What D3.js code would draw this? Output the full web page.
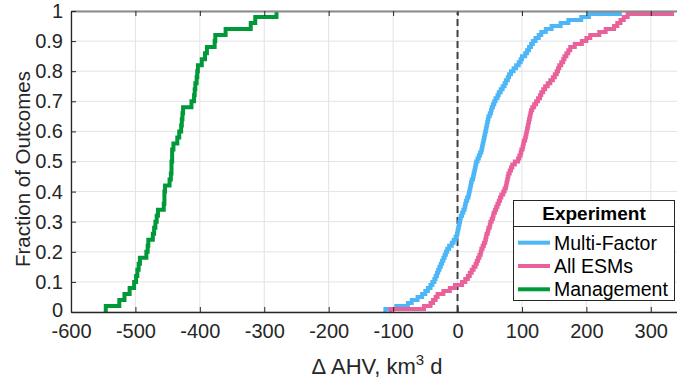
<!DOCTYPE html>
<html>
<head>
<meta charset="utf-8">
<script src="https://cdn.jsdelivr.net/npm/d3@7"></script>
<style>
  body { margin: 0; background: #fff; }
  svg { display: block; font-family: "Liberation Sans", Arial, Helvetica, sans-serif; }
</style>
</head>
<body>
<div id="chart"></div>
<script>
// values, sorted samples of each experiment
var management = [-546,-525,-517,-509,-502,-499,-497,-495,-493,-483,-481,-480,-473,-471,-469,-467,-465,-456,-455,-455,
  -454,-447,-445,-444,-444,-443,-443,-441,-435,-432,-429,-428,-427,-426,-413,-409,-408,-407,-405,-404,
  -403,-397,-392,-389,-377,-376,-360,-321,-314,-281];

var multiFactor = [-112,-95,-77,-71,-62,-55,-50,-46,-42,-39,-36,-34,-32,-30,-28,-26,-24,-22,-20,-18,
  -16,-13,-9,-6,-3,-1,0,1,2,3,4,5,7,9,11,12,13,15,17,18,
  19,20,21,22,24,25,26,27,28,29,31,33,35,37,38,39,40,41,42,43,
  44,45,46,47,48,50,52,53,55,57,59,62,64,67,70,73,75,78,80,83,
  87,91,95,98,100,105,108,111,114,117,121,126,130,137,146,160,172,192,204,252];

var allESMs = [-104,-52,-42,-38,-34,-31,-22,-12,-4,7,12,16,19,22,25,28,30,32,34,36,
  37,39,41,43,44,45,47,48,50,51,53,55,56,58,60,62,64,66,68,71,
  73,75,76,77,78,79,81,83,85,89,94,96,98,99,101,102,103,105,106,107,
  108,109,110,111,112,113,114,116,119,122,125,128,130,133,136,140,144,148,151,154,
  156,158,161,164,166,169,172,175,182,193,200,206,220,230,243,248,253,258,264,333];

var seriesNames = ["Multi-Factor", "All ESMs", "Management"];
var seriesColors = ["#4cb6f6", "#e8619a", "#00993a"];
var xTicks = [-600,-500,-400,-300,-200,-100,0,100,200,300];
var yTicks = [0,0.1,0.2,0.3,0.4,0.5,0.6,0.7,0.8,0.9,1];

var width = 677, height = 381;
var margin = {top: 11, left: 71, right: -6, bottom: 69};

var svg = d3.select("#chart").append("svg")
  .attr("width", width)
  .attr("height", height);

var x = d3.scaleLinear().domain([-600, 350]).range([margin.left, width - margin.right]);
var y = d3.scaleLinear().domain([0, 1]).range([height - margin.bottom, margin.top]);

// grid
svg.append("g").selectAll("line")
  .data(xTicks)
  .enter().append("line")
    .attr("x1", function(d){ return x(d); })
    .attr("x2", function(d){ return x(d); })
    .attr("y1", y(0))
    .attr("y2", y(1))
    .style("stroke", "#e3e3e3")
    .style("stroke-width", 1);

svg.append("g").selectAll("line")
  .data(yTicks)
  .enter().append("line")
    .attr("x1", x(-600))
    .attr("x2", width)
    .attr("y1", function(d){ return y(d); })
    .attr("y2", function(d){ return y(d); })
    .style("stroke", "#e3e3e3")
    .style("stroke-width", 1);

// zero line
svg.append("line")
  .attr("x1", x(0)).attr("x2", x(0))
  .attr("y1", y(0)).attr("y2", y(1))
  .style("stroke", "#404040")
  .style("stroke-width", 2)
  .style("stroke-dasharray", "7,4");

// ecdf curves
var line = d3.line()
  .x(function(d){ return x(d.x); })
  .y(function(d){ return y(d.y); })
  .curve(d3.curveStepAfter);

function ecdf(values) {
  var n = values.length;
  var pts = [{x: values[0], y: 0}];
  values.forEach(function(v, i){ pts.push({x: v, y: (i + 1) / n}); });
  return pts;
}

[multiFactor, allESMs, management].forEach(function(s, i){
  svg.append("path")
    .datum(ecdf(s))
    .attr("d", line)
    .style("fill", "none")
    .style("stroke", seriesColors[i])
    .style("stroke-width", 4)
    .style("stroke-linejoin", "miter");
});

// axes
var xAxis = svg.append("g")
  .attr("transform", "translate(0," + y(0) + ")")
  .call(d3.axisBottom(x).tickValues(xTicks).tickSize(-5).tickPadding(12).tickSizeOuter(0));

var xTop = svg.append("g")
  .attr("transform", "translate(0," + y(1) + ")")
  .call(d3.axisTop(x).tickValues(xTicks).tickSize(-5).tickSizeOuter(0).tickFormat(""));

var yAxis = svg.append("g")
  .attr("transform", "translate(" + x(-600) + ",0)")
  .call(d3.axisLeft(y).tickValues(yTicks).tickSize(-5).tickPadding(8).tickSizeOuter(0)
    .tickFormat(function(d){ return d3.format("")(d); }));

xAxis.select(".domain").style("stroke", "#262626").style("stroke-width", 1.3);
xTop.select(".domain").style("stroke", "#8a8a8a").style("stroke-width", 2);
yAxis.select(".domain").style("stroke", "#262626").style("stroke-width", 1.3);
svg.selectAll(".tick line").style("stroke", "#262626");
svg.selectAll(".tick text")
  .style("font-size", "20px")
  .style("fill", "#262626")
  .style("font-family", "\"Liberation Sans\", Arial, sans-serif");
xAxis.selectAll(".tick text").text(function(d){ return d; });
// nudge the bottom y label up a touch so it clears the x labels
yAxis.selectAll(".tick text").filter(function(d){ return d === 0; }).attr("dy", "0.2em");

// axis labels
var xl = svg.append("text")
  .attr("x", 377)
  .attr("y", 374)
  .attr("text-anchor", "middle")
  .style("font-size", "22px")
  .style("fill", "#262626");
xl.append("tspan").text("\u0394 AHV, km");
xl.append("tspan").attr("dy", -9).style("font-size", "15px").text("3");
xl.append("tspan").attr("dy", 9).text(" d");

svg.append("text")
  .attr("transform", "translate(30,169) rotate(-90)")
  .attr("text-anchor", "middle")
  .style("font-size", "20.5px")
  .style("fill", "#262626")
  .text("Fraction of Outcomes");

// legend
var lg = svg.append("g");
lg.append("rect")
  .attr("x", 513.5).attr("y", 200.5)
  .attr("width", 161).attr("height", 100)
  .style("fill", "#fff")
  .style("stroke", "#262626")
  .style("stroke-width", 1);
lg.append("line")
  .attr("x1", 513.5).attr("x2", 674.5)
  .attr("y1", 226.5).attr("y2", 226.5)
  .style("stroke", "#262626");
lg.append("text")
  .attr("x", 594).attr("y", 220)
  .attr("text-anchor", "middle")
  .style("font-size", "19px")
  .style("font-weight", "bold")
  .style("fill", "#000")
  .text("Experiment");

var items = lg.selectAll(".item")
  .data(seriesNames)
  .enter().append("g")
  .attr("class", "item")
  .attr("transform", function(d, i){ return "translate(0," + (242.7 + i * 23.3) + ")"; });

items.append("line")
  .attr("x1", 518).attr("x2", 550)
  .style("stroke", function(d, i){ return seriesColors[i]; })
  .style("stroke-width", 4);

items.append("text")
  .attr("x", 554)
  .attr("dy", "0.36em")
  .style("font-size", "19.5px")
  .style("fill", "#000")
  .text(function(d){ return d; });
</script>
</body>
</html>
